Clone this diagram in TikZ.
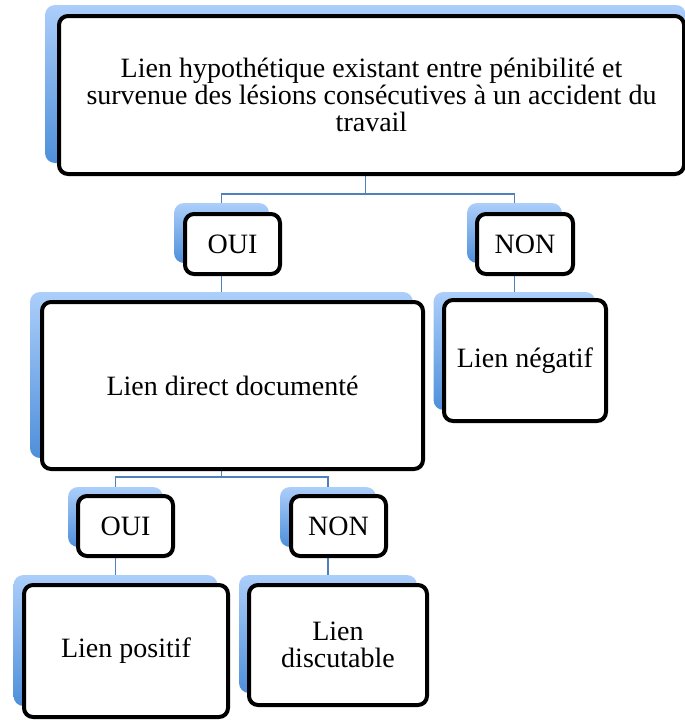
\documentclass[tikz,border=0pt]{standalone}
\usepackage{fontspec}
\setmainfont{Liberation Serif}
\definecolor{bluetop}{RGB}{172,206,250}
\definecolor{bluebot}{RGB}{78,143,218}
\definecolor{connc}{RGB}{79,129,189}
\tikzset{
  backbox/.style={rectangle, rounded corners=10pt, top color=bluetop, bottom color=bluebot, draw=none, inner sep=0pt, outer sep=0pt},
  frontbox/.style={rectangle, rounded corners=9pt, draw=black, line width=4pt, fill=white, inner sep=0pt, outer sep=0pt, align=center, font=\fontsize{28pt}{27pt}\selectfont},
  conn/.style={draw=connc, line width=1.3pt}
}
\begin{document}
\begin{tikzpicture}[x=1pt,y=-1pt]
\useasboundingbox (0,0) rectangle (685,720);
% blue backs
\node[backbox, minimum width=641pt, minimum height=158pt] (topb) at (365.5,84) {};
\node[backbox, minimum width=95pt, minimum height=60pt] (oui1b) at (221.5,233) {};
\node[backbox, minimum width=95pt, minimum height=60pt] (non1b) at (514.5,233) {};
\node[backbox, minimum width=383pt, minimum height=166pt] (directb) at (221.5,375) {};
\node[backbox, minimum width=162pt, minimum height=118pt] (negb) at (514.5,351) {};
\node[backbox, minimum width=95pt, minimum height=60pt] (oui2b) at (115.5,517) {};
\node[backbox, minimum width=96pt, minimum height=60pt] (non2b) at (328,517) {};
\node[backbox, minimum width=204pt, minimum height=131pt] (posb) at (115.5,640.5) {};
\node[backbox, minimum width=178pt, minimum height=118pt] (discb) at (328,634) {};
% connectors
\draw[conn] (topb.south) -- ++(0,31) -| (oui1b.north);
\draw[conn] (topb.south) -- ++(0,31) -| (non1b.north);
\draw[conn] (oui1b.south) -- (directb.north);
\draw[conn] (non1b.south) -- (negb.north);
\draw[conn] (directb.south) -- ++(0,19) -| (oui2b.north);
\draw[conn] (directb.south) -- ++(0,19) -| (non2b.north);
\draw[conn] (oui2b.south) -- (posb.north);
\draw[conn] (non2b.south) -- (discb.north);
% front boxes
\node[frontbox, minimum width=625pt, minimum height=158pt] (top) at (371.5,95)
  {Lien hypothétique existant entre pénibilité et\\survenue des lésions consécutives à un accident du\\travail};
\node[frontbox, minimum width=95pt, minimum height=60pt] (oui1) at (232.5,244) {OUI};
\node[frontbox, minimum width=96pt, minimum height=60pt] (non1) at (525,244) {NON};
\node[frontbox, minimum width=381pt, minimum height=167pt] (direct) at (232.5,385.5) {Lien direct documenté};
\node[frontbox, minimum width=162pt, minimum height=121pt] (neg) at (525,360.5) {Lien négatif};
\node[frontbox, minimum width=95pt, minimum height=60pt] (oui2) at (125.5,526) {OUI};
\node[frontbox, minimum width=95pt, minimum height=60pt] (non2) at (338.5,526) {NON};
\node[frontbox, minimum width=204pt, minimum height=132pt] (pos) at (126,651) {Lien positif};
\node[frontbox, minimum width=178pt, minimum height=120pt] (disc) at (338,645) {Lien\\discutable};
\end{tikzpicture}
\end{document}
